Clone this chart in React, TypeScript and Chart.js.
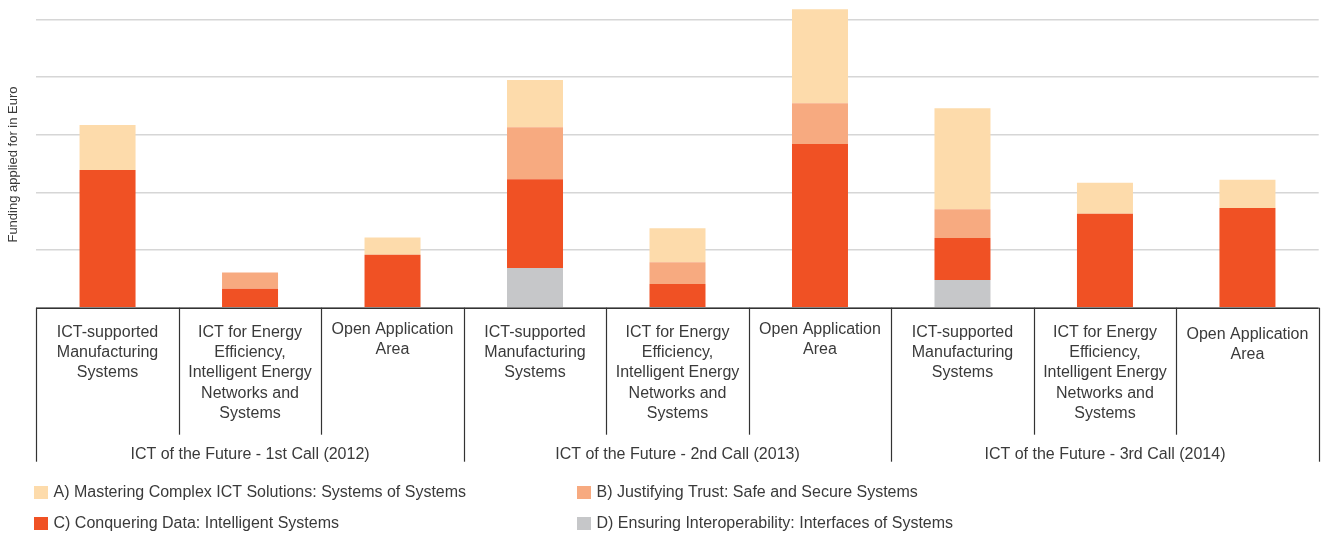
import React, { useEffect, useRef } from "react";
import { Chart, registerables } from "chart.js";

Chart.register(...registerables);

// ---- data ----
const categoryLabels: string[][] = [
  ["ICT-supported", "Manufacturing", "Systems"],
  ["ICT for Energy", "Efficiency,", "Intelligent Energy", "Networks and", "Systems"],
  ["Open Application", "Area"],
  ["ICT-supported", "Manufacturing", "Systems"],
  ["ICT for Energy", "Efficiency,", "Intelligent Energy", "Networks and", "Systems"],
  ["Open Application", "Area"],
  ["ICT-supported", "Manufacturing", "Systems"],
  ["ICT for Energy", "Efficiency,", "Intelligent Energy", "Networks and", "Systems"],
  ["Open Application", "Area"],
];

const groupLabels = [
  "ICT of the Future - 1st Call (2012)",
  "ICT of the Future - 2nd Call (2013)",
  "ICT of the Future - 3rd Call (2014)",
];

const seriesNames = [
  "A) Mastering Complex ICT Solutions: Systems of Systems",
  "B) Justifying Trust: Safe and Secure Systems",
  "C) Conquering Data: Intelligent Systems",
  "D) Ensuring Interoperability: Interfaces of Systems",
];

// stacked from bottom: D, C, B, A
const seriesD = [0, 0, 0, 0.69, 0, 0, 0.48, 0, 0];
const seriesC = [2.39, 0.33, 0.92, 1.54, 0.41, 2.84, 0.73, 1.63, 1.73];
const seriesB = [0, 0.28, 0, 0.9, 0.38, 0.71, 0.5, 0, 0];
const seriesA = [0.78, 0, 0.3, 0.82, 0.59, 1.63, 1.75, 0.54, 0.49];

const yAxisTitle = "Funding applied for in Euro";

// ---- style ----
const COLORS = {
  A: "#FDDBAB",
  B: "#F7AA80",
  C: "#F05124",
  D: "#C6C7C9",
};
const TEXT = "#3a3a3a";
const LINE = "#333333";
const FONT = "'Liberation Sans', Arial, sans-serif";

const labelOffsets = [0, 0, -3, 0, 0, -3, 0, 0, 2];

const overlayPlugin = {
  id: "overlay",
  afterDraw(chart: any) {
    const ctx: CanvasRenderingContext2D = chart.ctx;
    const xs = chart.scales.x;
    const ys = chart.scales.y;
    const area = chart.chartArea;
    const y0 = ys.getPixelForValue(0);
    const half = (xs.getPixelForValue(1) - xs.getPixelForValue(0)) / 2;
    const n = categoryLabels.length;
    const boundary = (i: number) =>
      i < n ? xs.getPixelForValue(i) - half : xs.getPixelForValue(n - 1) + half;

    ctx.save();
    // baseline
    ctx.strokeStyle = LINE;
    ctx.lineWidth = 1.5;
    ctx.beginPath();
    ctx.moveTo(area.left, y0 + 0.5);
    ctx.lineTo(area.right, y0 + 0.5);
    ctx.stroke();

    // dividers
    ctx.lineWidth = 1.2;
    for (let i = 0; i <= n; i++) {
      const bx = Math.round(boundary(i)) + 0.5;
      ctx.beginPath();
      ctx.moveTo(bx, y0);
      ctx.lineTo(bx, y0 + (i % 3 === 0 ? 154 : 127));
      ctx.stroke();
    }

    // category labels
    ctx.fillStyle = TEXT;
    ctx.font = `16px ${FONT}`;
    ctx.textAlign = "center";
    ctx.textBaseline = "middle";
    categoryLabels.forEach((lines, i) => {
      const cx = xs.getPixelForValue(i);
      lines.forEach((t, j) => {
        ctx.fillText(t, cx, y0 + 24.5 + j * 20.4 + labelOffsets[i]);
      });
    });

    // group labels
    groupLabels.forEach((g, k) => {
      const cx = (boundary(k * 3) + boundary(k * 3 + 3)) / 2;
      ctx.fillText(g, cx, y0 + 147);
    });

    // legend
    const legendColors = [COLORS.A, COLORS.B, COLORS.C, COLORS.D];
    const colX = [34, 577];
    const rowY = [493, 524];
    ctx.textAlign = "left";
    seriesNames.forEach((name, k) => {
      const x = colX[k % 2];
      const y = rowY[Math.floor(k / 2)];
      ctx.fillStyle = legendColors[k];
      ctx.fillRect(x, y - 7, 14, 13);
      ctx.fillStyle = TEXT;
      ctx.fillText(name, x + 19.5, y);
    });

    // y title
    ctx.translate(13.5, 164.5);
    ctx.rotate(-Math.PI / 2);
    ctx.font = `13px ${FONT}`;
    ctx.textAlign = "center";
    ctx.fillText(yAxisTitle, 0, 0);
    ctx.restore();
  },
};

export default function App() {
  const ref = useRef<HTMLCanvasElement | null>(null);

  useEffect(() => {
    if (!ref.current) return;
    const chart = new Chart(ref.current, {
      type: "bar",
      data: {
        labels: categoryLabels.map((l) => l.join(" ")),
        datasets: [
          { label: seriesNames[3], data: seriesD, backgroundColor: COLORS.D },
          { label: seriesNames[2], data: seriesC, backgroundColor: COLORS.C },
          { label: seriesNames[1], data: seriesB, backgroundColor: COLORS.B },
          { label: seriesNames[0], data: seriesA, backgroundColor: COLORS.A },
        ],
      },
      options: {
        animation: false,
        responsive: false,
        devicePixelRatio: 1,
        layout: { padding: { left: 36.3, right: 2.3, top: 0, bottom: 226.3 } },
        datasets: {
          bar: { barPercentage: 0.393, categoryPercentage: 1, borderWidth: 0 },
        },
        plugins: {
          legend: { display: false },
          tooltip: { enabled: false },
          title: { display: false },
        },
        scales: {
          x: { display: false, stacked: true },
          y: {
            stacked: true,
            min: 0,
            max: 5.34,
            display: true,
            ticks: { display: false, stepSize: 1 },
            border: { display: false },
            grid: {
              color: (c: any) =>
                c.tick && Number.isInteger(c.tick.value) ? "#d6d6d6" : "rgba(0,0,0,0)",
              lineWidth: 1.6,
              drawTicks: false,
            },
          },
        },
      },
      plugins: [overlayPlugin],
    });
    return () => chart.destroy();
  }, []);

  return (
    <div style={{ position: "fixed", left: 0, top: 0, width: 1321, height: 534, background: "#fff" }}>
      <canvas ref={ref} width={1321} height={534} />
    </div>
  );
}
